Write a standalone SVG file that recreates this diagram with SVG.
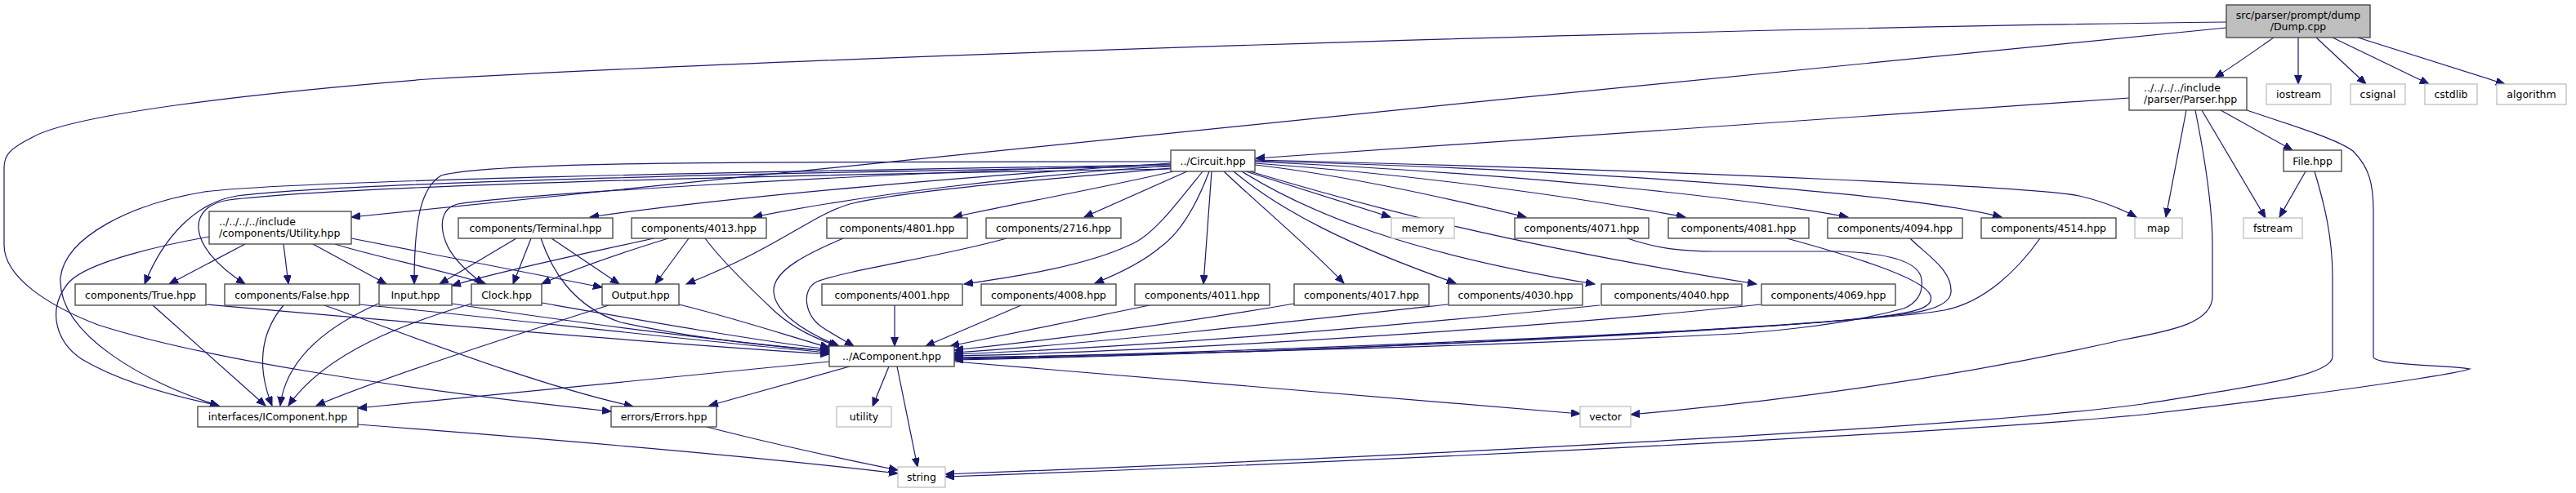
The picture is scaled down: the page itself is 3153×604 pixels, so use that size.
<svg xmlns="http://www.w3.org/2000/svg" width="3153" height="604" viewBox="0 0 3153 604">
<style>
.n rect{fill:#ffffff;stroke:#404040;stroke-width:1.3}
.x rect{fill:#ffffff;stroke:#bfbfbf;stroke-width:1.3}
.g rect{fill:#bfbfbf;stroke:#404040;stroke-width:1.3}
text{font-family:"DejaVu Sans","Liberation Sans",sans-serif;font-size:12.5px;fill:#000;text-anchor:middle}
text.l{text-anchor:start}
#edges path{fill:none;stroke:#191970;stroke-width:1.2;marker-end:url(#arr)}
</style>
<defs>
<marker id="arr" markerWidth="13" markerHeight="10" refX="11" refY="4.5" orient="auto" markerUnits="userSpaceOnUse">
<path d="M0,0 L11,4.5 L0,9 z" fill="#191970" stroke="#191970" stroke-width="1"/>
</marker>
</defs>
<rect width="3153" height="604" fill="#ffffff"/>
<g id="edges">
<path d="M2783,46 C2760,62 2735,80 2711,95"/>
<path d="M2813,46 L2813,103"/>
<path d="M2835,46 L2896,103"/>
<path d="M2855,46 L2973,103"/>
<path d="M2886,46 L3066,103"/>
<path d="M2725,27 C2000,36 1000,70 523,97 C300,115 90,140 40,168 C12,182 5,190 5,205 L5,300 C5,340 60,375 120,398 C250,440 500,478 748,504"/>
<path d="M2725,34 C2000,105 1000,205 430,266"/>
<path d="M2606,120 L1537,194"/>
<path d="M2676,135 L2651,266"/>
<path d="M2687,135 C2700,200 2708,260 2708,300 L2708,363 C2708,395 2660,405 2600,416 C2450,450 2250,485 1996,508"/>
<path d="M2695,135 L2773,267"/>
<path d="M2718,135 L2806,184"/>
<path d="M2750,135 C2800,152 2860,170 2880,185 C2900,205 2905,225 2905,260 L2905,437 C2905,448 3000,447 3023,452 C3000,460 2800,488 2623,508 C2400,530 1700,565 1157,584"/>
<path d="M2822,210 L2790,266"/>
<path d="M2833,210 C2845,250 2855,290 2855,340 L2855,437 C2855,460 2760,473 2623,495 C2400,525 1700,560 1157,581"/>
<path d="M1433,200 C1200,215 900,240 722,266"/>
<path d="M1433,203 C1250,215 1050,240 922,266"/>
<path d="M1436,210 C1350,230 1250,248 1167,266"/>
<path d="M1453,210 L1327,266"/>
<path d="M1525,210 L1702,266"/>
<path d="M1536,202 C1650,215 1780,245 1868,266"/>
<path d="M1536,200 C1750,215 1950,245 2063,266"/>
<path d="M1536,198 C1900,215 2150,245 2262,266"/>
<path d="M1536,197 C2000,210 2350,240 2450,266"/>
<path d="M1536,196 C2100,210 2500,230 2545,240 C2575,247 2595,255 2615,266"/>
<path d="M1472,210 C1440,250 1410,290 1383,300 C1330,325 1250,338 1180,348"/>
<path d="M1480,210 C1465,250 1445,285 1420,303 C1400,320 1370,335 1340,347"/>
<path d="M1483,210 L1473,348"/>
<path d="M1498,210 C1540,250 1600,300 1645,347"/>
<path d="M1510,210 C1570,260 1650,300 1782,347"/>
<path d="M1520,210 C1600,260 1720,310 1952,348"/>
<path d="M1530,210 C1680,255 1850,300 2150,348"/>
<path d="M1433,206 C1250,222 1100,235 1040,250 C990,265 960,300 840,348"/>
<path d="M1433,198 C900,198 600,198 540,215 C515,230 507,270 507,348"/>
<path d="M1433,201 C1000,215 620,240 560,250 C540,255 538,275 545,295 C552,315 570,332 592,348"/>
<path d="M1433,204 C900,212 400,225 290,240 C240,248 200,290 177,348"/>
<path d="M1433,207 C900,215 420,228 280,245 C230,252 225,300 300,348"/>
<path d="M1433,202 C900,210 350,222 250,235 C160,250 80,290 74,340 C70,410 180,470 268,497"/>
<path d="M300,299 L207,348"/>
<path d="M347,299 L353,348"/>
<path d="M383,299 L473,348"/>
<path d="M410,299 C460,315 540,330 595,348"/>
<path d="M430,292 C550,315 650,335 737,352"/>
<path d="M256,290 C200,300 110,320 85,345 C55,380 70,420 100,440 C150,470 220,487 268,497"/>
<path d="M632,292 L538,348"/>
<path d="M650,292 L628,348"/>
<path d="M675,292 L758,348"/>
<path d="M662,292 C675,330 700,375 760,395 C850,415 950,425 1015,430"/>
<path d="M800,292 C720,310 620,330 553,350"/>
<path d="M818,292 C760,310 700,330 663,348"/>
<path d="M843,292 L802,348"/>
<path d="M863,292 C880,315 920,355 950,383 C975,405 1000,415 1025,424"/>
<path d="M1032,292 C990,310 948,330 947,355 C946,380 980,405 1027,424"/>
<path d="M1232,292 C1150,315 1040,330 1000,345 C980,355 985,385 1005,400 C1020,410 1035,418 1045,424"/>
<path d="M1095,374 L1095,424"/>
<path d="M1250,374 L1133,424"/>
<path d="M1407,374 L1163,424"/>
<path d="M1584,372 C1450,395 1300,415 1168,429"/>
<path d="M1772,373 C1600,392 1350,420 1168,432"/>
<path d="M1958,374 C1700,400 1400,425 1168,434"/>
<path d="M2155,373 C1900,400 1450,430 1168,436"/>
<path d="M1992,292 C2030,305 2060,308 2100,308 L2250,308 C2310,310 2350,320 2352,343 C2354,360 2345,372 2330,378 C2250,400 2150,408 2100,410 C1800,425 1400,435 1168,438"/>
<path d="M2187,292 C2260,312 2355,340 2363,362 C2368,378 2340,383 2300,388 C2200,402 1600,430 1168,439"/>
<path d="M2338,292 C2355,310 2390,330 2388,358 C2386,380 2340,385 2280,390 C2100,408 1600,432 1168,440"/>
<path d="M2497,292 C2470,330 2430,370 2380,380 C2300,395 1700,430 1168,441"/>
<path d="M252,373 C500,395 800,420 1015,434"/>
<path d="M440,373 C600,388 850,418 1015,432"/>
<path d="M553,372 C700,395 900,420 1015,430"/>
<path d="M663,371 C800,395 930,418 1015,428"/>
<path d="M831,373 C900,390 960,410 1015,426"/>
<path d="M187,374 L325,497"/>
<path d="M347,374 C325,400 310,440 333,497"/>
<path d="M463,372 C400,400 350,440 343,497"/>
<path d="M577,372 C500,395 400,430 353,497"/>
<path d="M745,374 C600,420 450,470 387,497"/>
<path d="M397,374 C500,410 650,470 775,498"/>
<path d="M1015,443 C800,465 600,485 438,500"/>
<path d="M1040,449 L868,497"/>
<path d="M1088,449 L1068,498"/>
<path d="M1098,449 L1123,572"/>
<path d="M1168,443 C1500,470 1750,490 1934,507"/>
<path d="M438,520 C700,540 950,562 1099,580"/>
<path d="M865,523 C950,545 1030,562 1099,576"/>
</g>
<g id="n_dump" class="g"><rect x="2725" y="6" width="176" height="40"/><text x="2813" y="23">src/parser/prompt/dump</text><text x="2813" y="36.5">/Dump.cpp</text></g>
<g id="n_parser" class="n"><rect x="2606" y="95" width="144" height="40"/><text class="l" x="2624" y="112">../../../../include</text><text class="l" x="2624" y="125.5">/parser/Parser.hpp</text></g>
<g id="n_iostream" class="x"><rect x="2774" y="103" width="79" height="25"/><text x="2813.5" y="120">iostream</text></g>
<g id="n_csignal" class="x"><rect x="2877" y="103" width="67" height="25"/><text x="2910.5" y="120">csignal</text></g>
<g id="n_cstdlib" class="x"><rect x="2968" y="103" width="64" height="25"/><text x="3000" y="120">cstdlib</text></g>
<g id="n_algorithm" class="x"><rect x="3056" y="103" width="85" height="25"/><text x="3098.5" y="120">algorithm</text></g>
<g id="n_circuit" class="n"><rect x="1433" y="184" width="103" height="26"/><text x="1484.5" y="201.5">../Circuit.hpp</text></g>
<g id="n_file" class="n"><rect x="2795" y="184" width="71" height="26"/><text x="2830.5" y="201.5">File.hpp</text></g>
<g id="n_utility" class="n"><rect x="256" y="259" width="174" height="40"/><text class="l" x="268" y="276">../../../../include</text><text class="l" x="268" y="289.5">/components/Utility.hpp</text></g>
<g id="n_terminal" class="n"><rect x="561" y="267" width="189" height="25"/><text x="655.5" y="284">components/Terminal.hpp</text></g>
<g id="n_4013" class="n"><rect x="773" y="267" width="165" height="25"/><text x="855.5" y="284">components/4013.hpp</text></g>
<g id="n_4801" class="n"><rect x="1012" y="267" width="172" height="25"/><text x="1098" y="284">components/4801.hpp</text></g>
<g id="n_2716" class="n"><rect x="1207" y="267" width="165" height="25"/><text x="1289.5" y="284">components/2716.hpp</text></g>
<g id="n_memory" class="x"><rect x="1703" y="267" width="77" height="25"/><text x="1741.5" y="284">memory</text></g>
<g id="n_4071" class="n"><rect x="1854" y="267" width="164" height="25"/><text x="1936" y="284">components/4071.hpp</text></g>
<g id="n_4081" class="n"><rect x="2042" y="267" width="172" height="25"/><text x="2128" y="284">components/4081.hpp</text></g>
<g id="n_4094" class="n"><rect x="2237" y="267" width="165" height="25"/><text x="2319.5" y="284">components/4094.hpp</text></g>
<g id="n_4514" class="n"><rect x="2425" y="267" width="165" height="25"/><text x="2507.5" y="284">components/4514.hpp</text></g>
<g id="n_map" class="x"><rect x="2613" y="267" width="58" height="25"/><text x="2642" y="284">map</text></g>
<g id="n_fstream" class="x"><rect x="2746" y="267" width="72" height="25"/><text x="2782" y="284">fstream</text></g>
<g id="n_true" class="n"><rect x="92" y="348" width="160" height="26"/><text x="172" y="365.5">components/True.hpp</text></g>
<g id="n_false" class="n"><rect x="275" y="348" width="165" height="26"/><text x="357.5" y="365.5">components/False.hpp</text></g>
<g id="n_input" class="n"><rect x="464" y="348" width="89" height="26"/><text x="508.5" y="365.5">Input.hpp</text></g>
<g id="n_clock" class="n"><rect x="577" y="348" width="86" height="26"/><text x="620" y="365.5">Clock.hpp</text></g>
<g id="n_output" class="n"><rect x="737" y="348" width="94" height="26"/><text x="784" y="365.5">Output.hpp</text></g>
<g id="n_4001" class="n"><rect x="1006" y="348" width="172" height="26"/><text x="1092" y="365.5">components/4001.hpp</text></g>
<g id="n_4008" class="n"><rect x="1201" y="348" width="165" height="26"/><text x="1283.5" y="365.5">components/4008.hpp</text></g>
<g id="n_4011" class="n"><rect x="1389" y="348" width="165" height="26"/><text x="1471.5" y="365.5">components/4011.hpp</text></g>
<g id="n_4017" class="n"><rect x="1584" y="348" width="165" height="26"/><text x="1666.5" y="365.5">components/4017.hpp</text></g>
<g id="n_4030" class="n"><rect x="1773" y="348" width="164" height="26"/><text x="1855" y="365.5">components/4030.hpp</text></g>
<g id="n_4040" class="n"><rect x="1960" y="348" width="172" height="26"/><text x="2046" y="365.5">components/4040.hpp</text></g>
<g id="n_4069" class="n"><rect x="2156" y="348" width="164" height="26"/><text x="2238" y="365.5">components/4069.hpp</text></g>
<g id="n_acomponent" class="n"><rect x="1015" y="424" width="153" height="25"/><text x="1091.5" y="441">../AComponent.hpp</text></g>
<g id="n_icomponent" class="n"><rect x="242" y="498" width="196" height="25"/><text x="340" y="515">interfaces/IComponent.hpp</text></g>
<g id="n_errors" class="n"><rect x="748" y="498" width="129" height="25"/><text x="812.5" y="515">errors/Errors.hpp</text></g>
<g id="n_utility_std" class="x"><rect x="1024" y="498" width="67" height="25"/><text x="1057.5" y="515">utility</text></g>
<g id="n_vector" class="x"><rect x="1934" y="498" width="62" height="25"/><text x="1965" y="515">vector</text></g>
<g id="n_string" class="x"><rect x="1099" y="572" width="58" height="25"/><text x="1128" y="589">string</text></g>
</svg>
